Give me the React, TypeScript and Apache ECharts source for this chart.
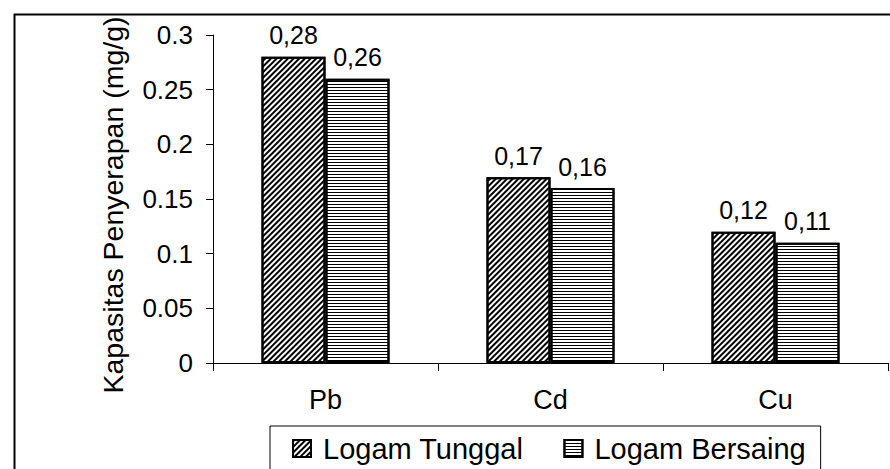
import React, { useEffect, useRef } from "react";
import * as echarts from "echarts";

const categories = ["Pb", "Cd", "Cu"];
const tunggal = [0.28, 0.17, 0.12];
const bersaing = [0.26, 0.16, 0.11];
const seriesNames = ["Logam Tunggal", "Logam Bersaing"];
const yTicks = { min: 0, max: 0.3, interval: 0.05 };

const FONT = "'Liberation Sans', Arial, sans-serif";

export default function App() {
  const ref = useRef<HTMLDivElement>(null);
  useEffect(() => {
    if (!ref.current) return;
    const chart = echarts.init(ref.current, null, { renderer: "svg" });
    const diagDecal = {
      symbol: "rect",
      symbolSize: 1,
      dashArrayX: [1, 0],
      dashArrayY: [1.5, 1.5],
      rotation: -Math.PI / 4,
      color: "#000",
      backgroundColor: "#fff",
    };
    const horizDecal = {
      symbol: "rect",
      symbolSize: 1,
      dashArrayX: [1, 0],
      dashArrayY: [1, 2],
      rotation: 0,
      color: "#000",
      backgroundColor: "#fff",
    };
    const label = {
      show: true,
      position: "top",
      distance: 9,
      color: "#000",
      fontFamily: FONT,
      fontSize: 25,
      formatter: (p: any) => Number(p.value).toFixed(2).replace(".", ","),
    };
    chart.setOption({
      animation: false,
      backgroundColor: "#fff",
      textStyle: { fontFamily: FONT, color: "#000" },
      grid: { left: 213, right: 2, top: 35, bottom: 106, containLabel: false },
      legend: {
        data: seriesNames,
        left: 270,
        top: 426,
        orient: "horizontal",
        padding: [8, 15, 8, 22],
        borderColor: "#000",
        borderWidth: 1,
        itemWidth: 18,
        itemHeight: 17,
        itemGap: 40,
        icon: "rect",
        textStyle: { fontFamily: FONT, fontSize: 29, color: "#000", padding: [0, 0, 0, 7] },
      },
      xAxis: {
        type: "category",
        data: categories,
        axisLine: { show: true, lineStyle: { color: "#000", width: 1 } },
        axisTick: { show: true, length: 8, alignWithLabel: false, lineStyle: { color: "#000" } },
        axisLabel: { color: "#000", fontSize: 27, fontFamily: FONT, margin: 23 },
        splitLine: { show: false },
      },
      yAxis: {
        type: "value",
        min: yTicks.min,
        max: yTicks.max,
        interval: yTicks.interval,
        name: "Kapasitas Penyerapan (mg/g)",
        nameLocation: "middle",
        nameGap: 86,
        nameTextStyle: { fontFamily: FONT, fontSize: 28.5, color: "#000", padding: [0, 12, 0, 0] },
        axisLine: { show: true, lineStyle: { color: "#000", width: 1 } },
        axisTick: { show: true, length: 7, lineStyle: { color: "#000" } },
        axisLabel: { color: "#000", fontSize: 26, fontFamily: FONT, margin: 20 },
        splitLine: { show: false },
      },
      series: [
        {
          name: seriesNames[0],
          type: "bar",
          data: tunggal,
          barWidth: 64,
          barGap: "0%",
          itemStyle: { color: "#fff", borderColor: "#000", borderWidth: 2, decal: diagDecal },
          label,
        },
        {
          name: seriesNames[1],
          type: "bar",
          data: bersaing,
          barWidth: 64,
          barGap: "0%",
          itemStyle: { color: "#fff", borderColor: "#000", borderWidth: 2, decal: horizDecal },
          label,
        },
      ],
      graphic: [
        {
          type: "rect",
          left: 12,
          top: 12,
          shape: { x: 0, y: 0, width: 900, height: 500 },
          style: { fill: "none", stroke: "#000", lineWidth: 2 },
          silent: true,
          z: 100,
        },
      ],
    });
    return () => chart.dispose();
  }, []);
  return (
    <div
      ref={ref}
      style={{ position: "fixed", left: 0, top: 0, width: 890, height: 469, background: "#fff" }}
    />
  );
}
